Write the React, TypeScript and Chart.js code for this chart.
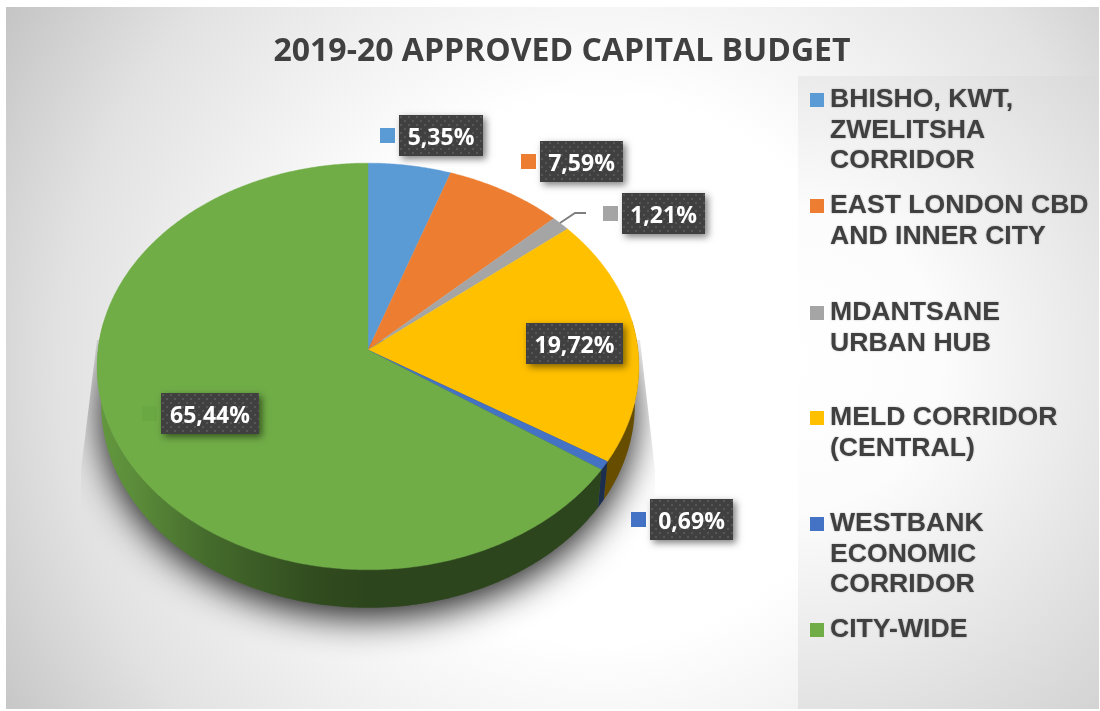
import React, { useEffect, useRef } from "react";
import { Chart, registerables } from "chart.js";

Chart.register(...registerables);

const chartTitle = "2019-20 APPROVED CAPITAL BUDGET";
const categories = [
  "BHISHO, KWT, ZWELITSHA CORRIDOR",
  "EAST LONDON CBD AND INNER CITY",
  "MDANTSANE URBAN HUB",
  "MELD CORRIDOR (CENTRAL)",
  "WESTBANK ECONOMIC CORRIDOR",
  "CITY-WIDE",
];
const legendLines = [
  ["BHISHO, KWT,", "ZWELITSHA", "CORRIDOR"],
  ["EAST LONDON CBD", "AND INNER CITY"],
  ["MDANTSANE", "URBAN HUB"],
  ["MELD CORRIDOR", "(CENTRAL)"],
  ["WESTBANK", "ECONOMIC", "CORRIDOR"],
  ["CITY-WIDE"],
];
const shares = [5.35, 7.59, 1.21, 19.72, 0.69, 65.44];
const colours = ["#5B9BD5", "#ED7D31", "#A5A5A5", "#FFC000", "#4472C4", "#70AD47"];

// layout only
const legendBaselines = [107, 213, 320, 425, 531, 637];
const labelBoxes = [
  { x: 399, y: 115, w: 84 },
  { x: 540, y: 141, w: 83 },
  { x: 622, y: 193, w: 83 },
  { x: 526, y: 323, w: 97 },
  { x: 650, y: 499, w: 83 },
  { x: 161, y: 393, w: 98 },
];

const CX = 368, CY = 350, F = 270, G = 202, K = 0.081, DEPTH = 38, SHRINK = 0.985;

function project(t: number) {
  const x = Math.cos(t), y = Math.sin(t), w = 1 - K * y;
  return { x: CX + (F * x) / w, y: CY + (G * y) / w };
}
function lower(p: { x: number; y: number }) {
  return { x: CX + (p.x - CX) * SHRINK, y: p.y + DEPTH };
}
function shade(hex: string, f: number) {
  const n = parseInt(hex.slice(1), 16);
  return `rgb(${Math.round(((n >> 16) & 255) * f)},${Math.round(((n >> 8) & 255) * f)},${Math.round((n & 255) * f)})`;
}

function rimPath(ctx: CanvasRenderingContext2D, pts: { x: number; y: number }[]) {
  ctx.beginPath();
  pts.forEach((p, i) => (i ? ctx.lineTo(p.x, p.y) : ctx.moveTo(p.x, p.y)));
  ctx.closePath();
}

function rimPoints() {
  const pts = [];
  for (let i = 0; i < 360; i++) pts.push(project((i * Math.PI) / 180));
  return pts;
}

const frame = {
  id: "frame",
  beforeDraw(chart: any) {
    const ctx: CanvasRenderingContext2D = chart.ctx;
    ctx.save();
    ctx.fillStyle = "#ffffff";
    ctx.fillRect(0, 0, 1100, 711);
    const g = ctx.createRadialGradient(600, 370, 0, 600, 370, 720);
    g.addColorStop(0, "#ffffff");
    g.addColorStop(0.38, "#ffffff");
    g.addColorStop(0.75, "#e2e2e2");
    g.addColorStop(1, "#c0c0c0");
    ctx.fillStyle = g;
    ctx.fillRect(6, 7, 1093, 702);
    const p = ctx.createRadialGradient(790, 360, 0, 790, 360, 500);
    p.addColorStop(0, "#ffffff");
    p.addColorStop(0.3, "#fcfcfc");
    p.addColorStop(1, "#cfcfcf");
    ctx.fillStyle = p;
    ctx.fillRect(798, 76, 301, 633);
    ctx.restore();
  },
};

const perspectivePie = {
  id: "perspectivePie",
  beforeDatasetDraw(chart: any, args: any) {
    const ctx: CanvasRenderingContext2D = chart.ctx;
    const arcs = args.meta.data;
    const rim = rimPoints();
    ctx.save();

    // cast shadow, clipped to a trapezoid
    ctx.save();
    ctx.beginPath();
    ctx.moveTo(97, 340);
    ctx.lineTo(640, 340);
    ctx.lineTo(655, 470);
    ctx.lineTo(655, 660);
    ctx.lineTo(81, 660);
    ctx.lineTo(81, 470);
    ctx.closePath();
    ctx.clip();
    ctx.shadowColor = "rgba(0,0,0,0.88)";
    ctx.shadowBlur = 36;
    ctx.shadowOffsetX = 3000;
    ctx.shadowOffsetY = 10;
    ctx.fillStyle = "#000";
    rimPath(ctx, rim.map((p) => ({ x: lower(p).x - 3000, y: lower(p).y })));
    ctx.fill();
    ctx.restore();

    // side wall, shaded left-to-right
    arcs.forEach((arc: any, idx: number) => {
      const a0 = arc.startAngle, a1 = arc.endAngle;
      const n = Math.max(3, Math.ceil((a1 - a0) / (Math.PI / 360)));
      const upper: { x: number; y: number }[] = [];
      for (let i = 0; i <= n; i++) {
        const t = a0 + ((a1 - a0) * i) / n;
        if (Math.sin(t) >= -0.15) upper.push(project(t));
      }
      if (upper.length < 2) return;
      const grad = ctx.createLinearGradient(100, 0, 368, 0);
      grad.addColorStop(0, shade(colours[idx], 0.88));
      grad.addColorStop(0.15, shade(colours[idx], 0.8));
      grad.addColorStop(0.4, shade(colours[idx], 0.62));
      grad.addColorStop(0.8, shade(colours[idx], 0.44));
      grad.addColorStop(1, shade(colours[idx], 0.4));
      rimPath(ctx, upper.concat(upper.map(lower).reverse()));
      ctx.fillStyle = grad;
      ctx.fill();
    });

    // top faces
    arcs.forEach((arc: any, idx: number) => {
      const a0 = arc.startAngle, a1 = arc.endAngle;
      const n = Math.max(3, Math.ceil((a1 - a0) / (Math.PI / 360)));
      const pts = [{ x: CX, y: CY }];
      for (let i = 0; i <= n; i++) pts.push(project(a0 + ((a1 - a0) * i) / n));
      rimPath(ctx, pts);
      ctx.fillStyle = colours[idx];
      ctx.strokeStyle = colours[idx];
      ctx.lineWidth = 0.4;
      ctx.fill();
      ctx.stroke();
    });
    ctx.restore();
    return false;
  },
};

let dotPattern: CanvasPattern | null = null;
function getPattern(ctx: CanvasRenderingContext2D) {
  if (dotPattern) return dotPattern;
  const c = document.createElement("canvas");
  c.width = 8;
  c.height = 8;
  const x = c.getContext("2d")!;
  x.fillStyle = "#404040";
  x.fillRect(0, 0, 8, 8);
  x.fillStyle = "#565656";
  x.fillRect(1, 1, 2, 2);
  x.fillRect(5, 5, 2, 2);
  dotPattern = ctx.createPattern(c, "repeat");
  return dotPattern;
}

const labels = {
  id: "labels",
  afterDatasetsDraw(chart: any) {
    const ctx: CanvasRenderingContext2D = chart.ctx;
    const values: number[] = chart.data.datasets[0].data;
    ctx.save();
    // leader line of the small grey slice
    ctx.strokeStyle = "#7f7f7f";
    ctx.lineWidth = 2;
    ctx.beginPath();
    ctx.moveTo(560, 223);
    ctx.lineTo(575, 213);
    ctx.lineTo(586, 213);
    ctx.stroke();

    values.forEach((v, i) => {
      const b = labelBoxes[i];
      const h = 41;
      ctx.fillStyle = i === 5 ? "#6AA844" : colours[i];
      ctx.fillRect(b.x - 19, b.y + 13, 15, 15);
      ctx.save();
      ctx.shadowColor = "rgba(0,0,0,0.5)";
      ctx.shadowBlur = 7;
      ctx.shadowOffsetX = 3;
      ctx.shadowOffsetY = 3;
      ctx.fillStyle = "#404040";
      ctx.fillRect(b.x, b.y, b.w, h);
      ctx.restore();
      ctx.save();
      ctx.translate(b.x, b.y);
      ctx.fillStyle = getPattern(ctx)!;
      ctx.fillRect(0, 0, b.w, h);
      ctx.restore();
      ctx.fillStyle = "#ffffff";
      ctx.font = "bold 23px 'Open Sans'";
      ctx.textAlign = "center";
      ctx.textBaseline = "alphabetic";
      ctx.fillText(v.toFixed(2).replace(".", ",") + "%", b.x + b.w / 2, b.y + 29.5);
    });

    // side legend
    categories.forEach((_, i) => {
      const base = legendBaselines[i];
      ctx.fillStyle = colours[i];
      ctx.fillRect(810, base - 14, 14, 14);
      ctx.save();
      ctx.shadowColor = "rgba(0,0,0,0.3)";
      ctx.shadowBlur = 2;
      ctx.fillStyle = "#404040";
      ctx.font = "bold 26.6px 'Liberation Sans'";
      ctx.textAlign = "left";
      ctx.textBaseline = "alphabetic";
      legendLines[i].forEach((line, j) => ctx.fillText(line, 830, base + j * 30.5));
      ctx.restore();
    });
    ctx.restore();
  },
};

export default function App() {
  const ref = useRef<HTMLCanvasElement>(null);
  useEffect(() => {
    const chart = new Chart(ref.current!, {
      type: "pie",
      data: {
        labels: categories,
        datasets: [{ data: shares, backgroundColor: colours, borderWidth: 0 }],
      },
      options: {
        responsive: false,
        animation: false,
        layout: { padding: { left: 24, top: 33, right: 0, bottom: 0 } },
        plugins: {
          legend: { display: false },
          tooltip: { enabled: false },
          title: {
            display: true,
            text: chartTitle,
            color: "#404040",
            font: { family: "'Open Sans'", size: 32, weight: "bold" },
            padding: { top: 0, bottom: 0 },
          },
        },
      },
      plugins: [frame, perspectivePie, labels],
    } as any);
    return () => chart.destroy();
  }, []);
  return (
    <div style={{ position: "fixed", left: 0, top: 0, width: 1100, height: 711 }}>
      <canvas ref={ref} width={1100} height={711} style={{ display: "block" }} />
    </div>
  );
}
